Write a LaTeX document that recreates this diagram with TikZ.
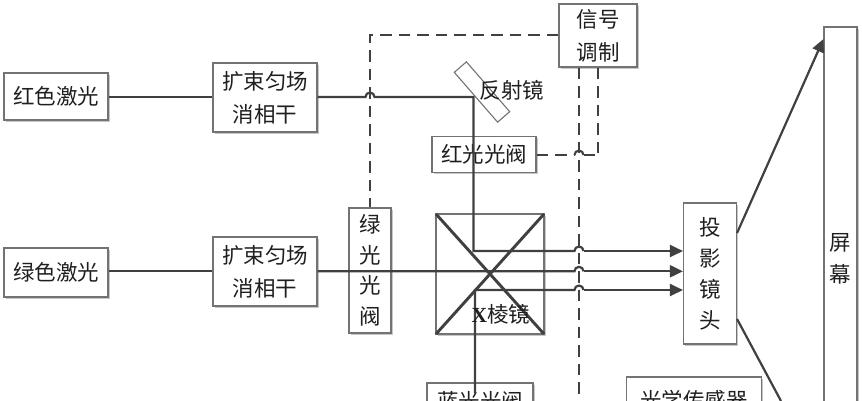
\documentclass[tikz,border=0pt]{standalone}
\usepackage{fontspec}
\setmainfont{Noto Sans CJK SC}
\newfontfamily\xfont{Liberation Serif}
\usetikzlibrary{arrows.meta,shadows}
\definecolor{ln}{gray}{0.25}
\definecolor{bx}{gray}{0.45}
\tikzset{
  x=1pt,y=-1pt,
  box/.style={draw=bx,line width=1.1pt,fill=white,inner sep=0pt,align=center,text=black!88,
    font=\fontsize{21.5}{33}\selectfont,
    drop shadow={shadow xshift=1.6pt,shadow yshift=-1.6pt,opacity=.22,fill=black}},
  beam/.style={draw=ln,line width=2.2pt},
  ctl/.style={draw=ln,line width=2.1pt,dash pattern=on 11.5pt off 7pt},
  arr/.style={beam,-{Triangle[length=13pt,width=12pt]}},
  lbl/.style={text=black!88,font=\fontsize{21.5}{26}\selectfont,inner sep=0pt}
}
\begin{document}
\begin{tikzpicture}
\useasboundingbox (0,0) rectangle (862,400);
\begin{scope}
\clip (0,0) rectangle (862,400);
\coordinate (g1) at (370,35);
\coordinate (cra) at (574.5,155);
\coordinate (crb) at (583.5,155);
\coordinate (cr) at (598,155);
\coordinate (cb) at (579,400);
\node[box,minimum width=78pt,minimum height=63pt] (sig) at (598,35.5) {信号\\调制};
\node[box,minimum width=104pt,minimum height=36pt] (rv) at (484,154.5) {红光光阀};
\node[box,minimum width=42pt,minimum height=125pt,font=\fontsize{21.5}{30.5}\selectfont] (gv) at (370,270.5) {绿\\光\\光\\阀};
\draw[ctl] (sig.west |- g1) -- (g1) -- (gv.north -| g1);
\draw[ctl] (sig.south -| cb) -- (cb);
\draw[ctl] (sig.south -| cr) -- (cr);
\draw[ctl] (rv.east |- cra) -- (cra) (crb) -- (cr);
\draw[draw=ln,line width=2.1pt] (cra) arc[start angle=180,end angle=0,radius=4.5pt];
\node[box,minimum width=104pt,minimum height=47pt] (rl) at (56,96.5) {红色激光};
\node[box,minimum width=104pt,minimum height=69pt] (re) at (265,97.5) {扩束匀场\\消相干};
\node[box,minimum width=104pt,minimum height=49pt] (gl) at (56,272.5) {绿色激光};
\node[box,minimum width=104pt,minimum height=69pt] (ge) at (265,271.5) {扩束匀场\\消相干};
\node[box,minimum width=108pt,minimum height=120pt] (xp) at (490,274) {};
\node[box,minimum width=53pt,minimum height=141pt,font=\fontsize{21.5}{31}\selectfont] (pl) at (710,273.5) {投\\影\\镜\\头};
\node[box,minimum width=33pt,minimum height=464pt,font=\fontsize{21.5}{32}\selectfont] (sc) at (840.5,259) {屏\\幕};
\node[box,minimum width=135pt,minimum height=46pt] (os) at (694,400) {光学传感器};
\node[box,minimum width=106pt,minimum height=36pt] (bv) at (480,401) {蓝光光阀};
\node[draw=bx,line width=1.1pt,fill=white,minimum width=66pt,minimum height=16pt,inner sep=0pt,rotate=-49] (mi) at (482,92) {};
\node[lbl] (mt) at (512,90) {反射镜};
\coordinate (mr) at (473.5,97);
\coordinate (br) at (473.5,251);
\coordinate (bb) at (475,290);
\coordinate (bs) at (475,393);
\coordinate (xa) at (436,214);
\coordinate (xb) at (544,214);
\coordinate (xc) at (436,334);
\coordinate (xd) at (544,334);
\draw[beam] (rl.east |- 0,96.7) -- (re.west |- 0,96.7);
\draw[beam] (gl.east |- 0,271.3) -- (ge.west |- 0,271.3);
\draw[beam] (re.east |- mr) -- (365.5,97) arc[start angle=180,end angle=0,radius=4.5pt] -- (mr) -- (br) -- (574.5,251) arc[start angle=180,end angle=0,radius=4.5pt];
\draw[arr] (583.5,251) -- (pl.west |- 0,251);
\draw[beam] (ge.east |- 0,271.3) -- (574.5,271.3) arc[start angle=180,end angle=0,radius=4.5pt];
\draw[arr] (583.5,271.3) -- (pl.west |- 0,271.3);
\draw[beam] (bs) -- (bb) -- (574.5,290) arc[start angle=180,end angle=0,radius=4.5pt];
\draw[arr] (583.5,290) -- (pl.west |- 0,290);
\draw[draw=ln,line width=2.9pt] (xa) -- (xd) (xb) -- (xc);
\node[lbl] (xt) at (501,314) {{\xfont\bfseries X}棱镜};
\draw[arr] (pl.east |- 0,233) -- (sc.west |- 0,39);
\draw[beam] (pl.east |- 0,319) -- (781,401);
\end{scope}
\end{tikzpicture}
\end{document}
